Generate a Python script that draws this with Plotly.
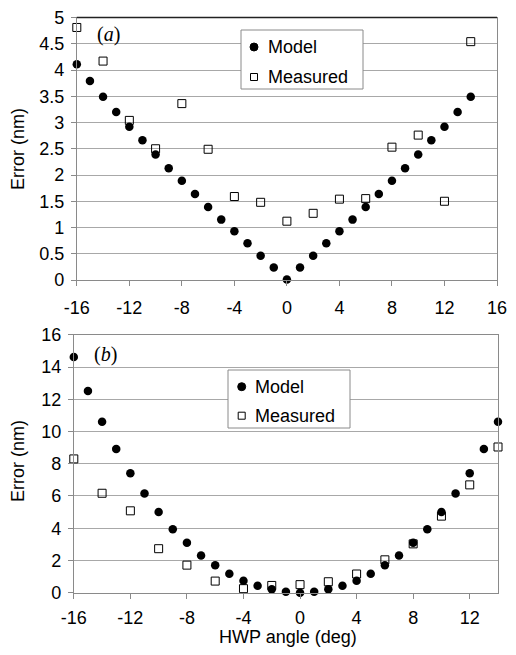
import plotly.graph_objects as go

# The page body has an 8px margin; the figure is sized so the page does not
# overflow the 516x655 window, and positions are given in window pixels.
WIN_W, WIN_H = 516, 655
OFF = 8
W, H = WIN_W - 2 * OFF, WIN_H - 2 * OFF

# ---- data ----
angles_model = list(range(-16, 15))
model_a = [4.11, 3.79, 3.49, 3.20, 2.92, 2.66, 2.39, 2.13, 1.89, 1.64, 1.39, 1.15, 0.93, 0.70, 0.46, 0.24,
           0.01, 0.24, 0.46, 0.70, 0.93, 1.15, 1.39, 1.64, 1.89, 2.13, 2.39, 2.66, 2.92, 3.20, 3.49]
angles_meas = list(range(-16, 15, 2))
meas_a = [4.81, 4.17, 3.04, 2.50, 3.36, 2.49, 1.59, 1.48, 1.12, 1.27, 1.54, 1.55, 2.53, 2.76, 1.50, 4.54]

model_b = [14.62, 12.51, 10.61, 8.92, 7.41, 6.15, 5.00, 3.94, 3.10, 2.31, 1.71, 1.18, 0.74, 0.43, 0.21, 0.06,
           0.00, 0.06, 0.21, 0.43, 0.74, 1.18, 1.71, 2.31, 3.10, 3.94, 5.00, 6.15, 7.41, 8.92, 10.61]
meas_b = [8.30, 6.17, 5.08, 2.73, 1.71, 0.72, 0.25, 0.45, 0.50, 0.68, 1.16, 2.04, 3.03, 4.75, 6.69, 9.04]

xticks_a = [-16, -12, -8, -4, 0, 4, 8, 12, 16]
xtext_a = ["-16", "-12", "-8", "-4", "0", "4", "8", "12", "16"]
xticks_b = [-16, -12, -8, -4, 0, 4, 8, 12]
xtext_b = ["-16", "-12", "-8", "-4", "0", "4", "8", "12"]
yticks_a = [0, 0.5, 1, 1.5, 2, 2.5, 3, 3.5, 4, 4.5, 5]
ytext_a = ["0", "0.5", "1", "1.5", "2", "2.5", "3", "3.5", "4", "4.5", "5"]
yticks_b = [0, 2, 4, 6, 8, 10, 12, 14, 16]
ytext_b = ["0", "2", "4", "6", "8", "10", "12", "14", "16"]

FONT = "Liberation Sans, Arial, sans-serif"
SERIF = "Liberation Serif, Times New Roman, serif"

def px(x):
    return (x - OFF) / W

def py(y):
    return 1 - (y - OFF) / H

fig = go.Figure()

circle = dict(symbol="circle", size=8.5, color="black")
square = dict(symbol="square-open", size=8, color="black", line=dict(width=1, color="black"))

fig.add_trace(go.Scatter(x=angles_model, y=model_a, mode="markers", marker=circle, name="Model",
                         xaxis="x", yaxis="y", showlegend=False, cliponaxis=False))
fig.add_trace(go.Scatter(x=angles_meas, y=meas_a, mode="markers", marker=square, name="Measured",
                         xaxis="x", yaxis="y", showlegend=False, cliponaxis=False))
fig.add_trace(go.Scatter(x=angles_model, y=model_b, mode="markers", marker=circle, name="Model",
                         xaxis="x2", yaxis="y2", showlegend=False, cliponaxis=False))
fig.add_trace(go.Scatter(x=angles_meas, y=meas_b, mode="markers", marker=square, name="Measured",
                         xaxis="x2", yaxis="y2", showlegend=False, cliponaxis=False))

axis_common = dict(showline=True, linecolor="#8a8a8a", linewidth=1, mirror=True,
                   ticks="outside", ticklen=5, tickcolor="#8a8a8a", zeroline=False,
                   automargin=False, ticklabeloverflow="allow",
                   tickfont=dict(family=FONT, size=18, color="black"))

# plot areas (window pixels)
A_L, A_R, A_T, A_B = 76.8, 497, 17.5, 280
B_L, B_R, B_T, B_B = 73.8, 498, 334.8, 592.7

fig.update_layout(
    template="none",
    width=W, height=H,
    margin=dict(l=0, r=0, t=0, b=0, pad=0),
    paper_bgcolor="white", plot_bgcolor="white",
    showlegend=False,
    xaxis=dict(axis_common, domain=[px(A_L), px(A_R)], range=[-16, 16], tickvals=xticks_a,
               ticktext=xtext_a, showgrid=False, anchor="y", ticklabelstandoff=6),
    yaxis=dict(axis_common, domain=[py(A_B), py(A_T)], range=[0, 5], tickvals=yticks_a, ticktext=ytext_a,
               showgrid=True, gridcolor="#a8a8a8", gridwidth=1, anchor="x", ticklabelstandoff=3),
    xaxis2=dict(axis_common, domain=[px(B_L), px(B_R)], range=[-16, 14], tickvals=xticks_b,
                ticktext=xtext_b, showgrid=False, anchor="y2", ticklabelstandoff=4),
    yaxis2=dict(axis_common, domain=[py(B_B), py(B_T)], range=[0, 16], tickvals=yticks_b,
                ticktext=ytext_b, showgrid=True, gridcolor="#a8a8a8", gridwidth=1, anchor="x2",
                ticklabelstandoff=3),
)

shapes = []
# dark top border of panel (a)
shapes.append(dict(type="line", xref="paper", yref="paper", x0=px(A_L), x1=px(A_R), y0=py(A_T), y1=py(A_T),
                   line=dict(color="#222222", width=1.5), layer="above"))

annotations = []

def add_legend(box, mark_x, y1, y2, text_x):
    x0, y0, x1, yb = box
    shapes.append(dict(type="rect", xref="paper", yref="paper", x0=px(x0), x1=px(x1), y0=py(yb), y1=py(y0),
                       line=dict(color="#8a8a8a", width=1), fillcolor="white", layer="above"))
    shapes.append(dict(type="circle", xref="paper", yref="paper", xsizemode="pixel", ysizemode="pixel",
                       xanchor=px(mark_x), yanchor=py(y1), x0=-4, x1=4, y0=-4, y1=4,
                       fillcolor="black", line=dict(color="black", width=1), layer="above"))
    shapes.append(dict(type="rect", xref="paper", yref="paper", xsizemode="pixel", ysizemode="pixel",
                       xanchor=px(mark_x), yanchor=py(y2), x0=-3.5, x1=3.5, y0=-3.5, y1=3.5,
                       fillcolor="white", line=dict(color="black", width=1), layer="above"))
    for t, yy in (("Model", y1), ("Measured", y2)):
        annotations.append(dict(text=t, xref="paper", yref="paper", x=px(text_x), y=py(yy),
                                xanchor="left", yanchor="middle", showarrow=False,
                                font=dict(family=FONT, size=18, color="black")))

add_legend((241, 30, 363, 89), 254, 47, 77, 266)
add_legend((228, 370, 350, 428), 241.7, 386.7, 415.7, 253)

annotations.append(dict(text="(<i>a</i>)", xref="paper", yref="paper", x=px(95), y=py(34),
                        xanchor="left", yanchor="middle", showarrow=False,
                        font=dict(family=SERIF, size=20, color="black")))
annotations.append(dict(text="(<i>b</i>)", xref="paper", yref="paper", x=px(92), y=py(354),
                        xanchor="left", yanchor="middle", showarrow=False,
                        font=dict(family=SERIF, size=20, color="black")))
for yc in (149, 461):
    annotations.append(dict(text="Error (nm)", xref="paper", yref="paper", x=px(18), y=py(yc),
                            xanchor="center", yanchor="middle", textangle=-90, showarrow=False,
                            font=dict(family=FONT, size=18, color="black")))
annotations.append(dict(text="HWP angle (deg)", xref="paper", yref="paper", x=px(288), y=py(637),
                        xanchor="center", yanchor="middle", showarrow=False,
                        font=dict(family=FONT, size=18, color="black")))

fig.update_layout(shapes=shapes, annotations=annotations)
fig.write_html("out.html")
